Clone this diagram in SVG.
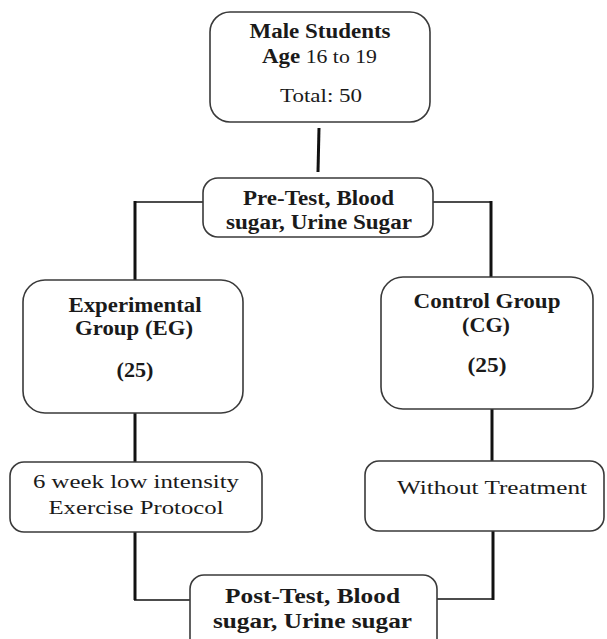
<svg xmlns="http://www.w3.org/2000/svg" width="607" height="639" viewBox="0 0 607 639">
<style>
.box{fill:#fff;stroke:#3a3a3a;stroke-width:1.6}
.t{font-family:"Liberation Serif","Times New Roman",serif;font-size:19px;fill:#1a1a1a;text-anchor:middle}
.b{font-weight:bold;font-size:20px}
.v{stroke:#111;stroke-width:3;fill:none}
.h{stroke:#111;stroke-width:1.6;fill:none}
</style>
<rect width="607" height="639" fill="#fff"/>
<g id="connectors">
<line class="v" x1="319" y1="128" x2="318" y2="172"/>
<line class="h" x1="203" y1="202" x2="134" y2="202"/>
<line class="v" x1="135" y1="201" x2="135" y2="280"/>
<line class="h" x1="433" y1="202" x2="492" y2="202"/>
<line class="v" x1="491" y1="201" x2="491" y2="277"/>
<line class="v" x1="135" y1="413" x2="135" y2="462"/>
<line class="v" x1="492" y1="409" x2="492" y2="461"/>
<line class="v" x1="135" y1="532" x2="135" y2="600"/>
<line class="h" x1="134" y1="600" x2="190" y2="600"/>
<line class="v" x1="493" y1="531" x2="493" y2="600"/>
<line class="h" x1="494" y1="599" x2="437" y2="599"/>
</g>
<g id="top">
<rect class="box" x="210" y="12" width="220" height="110" rx="20"/>
<text class="t b" x="320" y="38" textLength="141" lengthAdjust="spacingAndGlyphs">Male Students</text>
<text class="t" x="319.5" y="63" textLength="115" lengthAdjust="spacingAndGlyphs"><tspan font-weight="bold" font-size="20">Age</tspan> 16 to 19</text>
<text class="t" x="321" y="102" textLength="82" lengthAdjust="spacingAndGlyphs">Total: 50</text>
</g>
<g id="pretest">
<rect class="box" x="203" y="178" width="230" height="59" rx="15"/>
<text class="t b" x="318.5" y="205" textLength="151" lengthAdjust="spacingAndGlyphs">Pre-Test, Blood</text>
<text class="t b" x="319" y="229" textLength="186" lengthAdjust="spacingAndGlyphs">sugar, Urine Sugar</text>
</g>
<g id="eg">
<rect class="box" x="23" y="280" width="220" height="133" rx="22"/>
<text class="t b" x="135" y="312" textLength="133" lengthAdjust="spacingAndGlyphs">Experimental</text>
<text class="t b" x="134" y="335" textLength="118" lengthAdjust="spacingAndGlyphs">Group (EG)</text>
<text class="t b" x="135" y="377" textLength="37" lengthAdjust="spacingAndGlyphs">(25)</text>
</g>
<g id="cg">
<rect class="box" x="381" y="277" width="212" height="132" rx="22"/>
<text class="t b" x="487" y="308" textLength="147" lengthAdjust="spacingAndGlyphs">Control Group</text>
<text class="t b" x="486" y="332" textLength="48" lengthAdjust="spacingAndGlyphs">(CG)</text>
<text class="t b" x="487" y="372" textLength="39" lengthAdjust="spacingAndGlyphs">(25)</text>
</g>
<g id="exercise">
<rect class="box" x="10" y="462" width="252" height="70" rx="14"/>
<text class="t" x="136" y="488" textLength="206" lengthAdjust="spacingAndGlyphs">6 week low intensity</text>
<text class="t" x="136" y="514" textLength="175" lengthAdjust="spacingAndGlyphs">Exercise Protocol</text>
</g>
<g id="without">
<rect class="box" x="365" y="461" width="239" height="70" rx="14"/>
<text class="t" x="492" y="494" textLength="190" lengthAdjust="spacingAndGlyphs">Without Treatment</text>
</g>
<g id="posttest">
<rect class="box" x="190" y="575" width="247" height="80" rx="14"/>
<text class="t b" x="312.5" y="603" textLength="175" lengthAdjust="spacingAndGlyphs">Post-Test, Blood</text>
<text class="t b" x="312.5" y="628" textLength="199" lengthAdjust="spacingAndGlyphs">sugar, Urine sugar</text>
</g>
</svg>
